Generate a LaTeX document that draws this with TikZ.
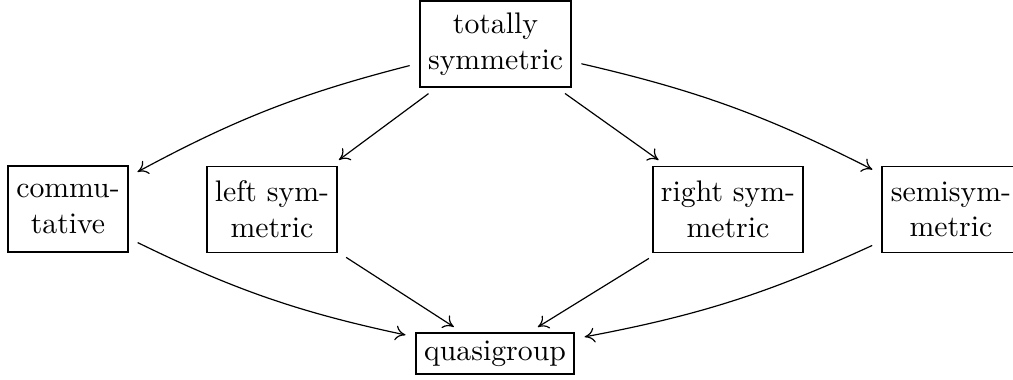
\documentclass[tikz,border=0pt]{standalone}
\usetikzlibrary{arrows.meta}
\begin{document}
\begin{tikzpicture}[x=0.336pt,y=0.336pt,
  box/.style={draw, inner sep=0pt, align=center, minimum height=28.9pt},
  arr/.style={-{To[length=3.4pt,width=5pt]}, shorten <=3.4pt, shorten >=3.4pt}]
\useasboundingbox (0,0) rectangle (1013,379);
\clip (0,0) rectangle (1013,379);
\node[box, minimum width=50.7pt] (ts) at (495.5,335) {totally\\symmetric};
\node[box, minimum width=40.3pt] (comm) at (68,170) {commu-\\tative};
\node[box, minimum width=43.7pt] (ls) at (272,169.5) {left sym-\\metric};
\node[box, minimum width=50.4pt] (rs) at (728,169.5) {right sym-\\metric};
\node[box, minimum width=46.4pt] (ss) at (951,169.5) {semisym-\\metric};
\node[box, minimum width=53.1pt, minimum height=13.8pt] (q) at (495,25.5) {quasigroup};
\draw[arr] (ts) to[bend right=7] (comm);
\draw[arr] (ts) -- (ls);
\draw[arr] (ts) -- (rs);
\draw[arr] (ts) to[bend left=7] (ss);
\draw[arr] (comm) to[bend right=7] (q);
\draw[arr] (ls) -- (q);
\draw[arr] (rs) -- (q);
\draw[arr] (ss) to[bend left=7] (q);
\end{tikzpicture}
\end{document}
